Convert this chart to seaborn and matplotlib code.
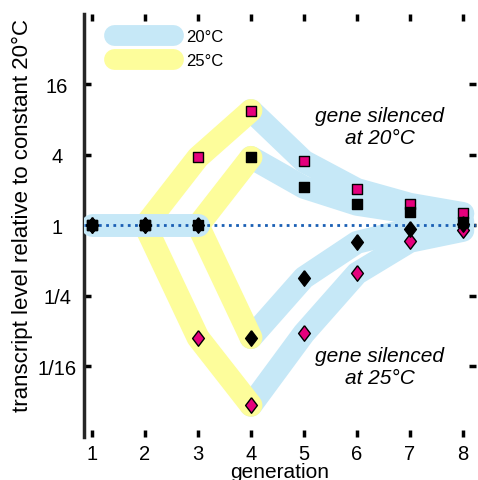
import numpy as np
import pandas as pd
import seaborn as sns
import matplotlib.pyplot as plt
from matplotlib.lines import Line2D

sns.set_style("ticks")
plt.rcParams['font.family'] = ['Liberation Sans', 'DejaVu Sans']
plt.rcParams['text.color'] = 'black'
plt.rcParams['axes.labelcolor'] = 'black'
plt.rcParams['xtick.color'] = 'black'
plt.rcParams['ytick.color'] = 'black'

# generations and log2 transcript levels
generation = [1, 2, 3, 4, 5, 6, 7, 8]
black_square = [0, 0, 0, 1.93, 1.08, 0.60, 0.37, 0.11]
pink_square = [0, 0, 1.93, 3.26, 1.82, 1.02, 0.60, 0.34]
black_diamond = [0, 0, 0, -3.18, -1.48, -0.48, -0.11, 0.03]
pink_diamond = [0, 0, -3.18, -5.10, -3.06, -1.36, -0.45, -0.14]

ytick_pos = [-4, -2, 0, 2, 4]
ytick_labels = ["1/16", "1/4", "1", "4", "16"]

blue = "#c6e8f7"
yellow = "#fdfd9b"
pink = "#e5007d"

fig = plt.figure(figsize=(4.78, 4.81), dpi=100)
ax = fig.add_axes([0.176, 0.0894, 0.82, 0.8796])

band_w = 16.5

def band(xs, ys, color, z):
    d = pd.DataFrame({"g": xs, "v": ys})
    sns.lineplot(data=d, x="g", y="v", color=color, lw=band_w, sort=False,
                 solid_capstyle="round", solid_joinstyle="round", ax=ax, zorder=z)

# blue bands after the shift back to 20C
for s in [pink_square, black_square, black_diamond, pink_diamond]:
    band(generation[3:], s[3:], blue, 1)
# yellow bands (25C)
band(generation[1:4], pink_square[1:4], yellow, 2)
band(generation[2:4], black_square[2:4], yellow, 2)
band(generation[1:4], pink_diamond[1:4], yellow, 2)
band(generation[2:4], black_diamond[2:4], yellow, 2)
# initial 20C band
band(generation[:3], black_square[:3], blue, 3)

ax.axhline(0, color="#1a5fb4", lw=2, ls=(0, (1, 1.6)), zorder=4)

diamond = [(0, 1), (0.76, 0), (0, -1), (-0.76, 0), (0, 1)]
pts = pd.DataFrame({"g": generation * 4,
                    "v": pink_square + black_square + pink_diamond + black_diamond,
                    "kind": ["ps"] * 8 + ["bs"] * 8 + ["pd"] * 8 + ["bd"] * 8})
style = {"ps": ("s", pink, 44), "bs": ("s", "black", 44),
         "pd": (diamond, pink, 125), "bd": (diamond, "black", 125)}
for k, (m, c, sz) in style.items():
    sub = pts[pts["kind"] == k]
    sns.scatterplot(data=sub, x="g", y="v", marker=m, color=c, s=sz,
                    edgecolor="black", linewidth=1.0, ax=ax, zorder=5)

ax.text(6.43, 2.8, "gene silenced\nat 20°C", ha="center", va="center",
        style="italic", fontsize=15, linespacing=1.2)
ax.text(6.43, -4.0, "gene silenced\nat 25°C", ha="center", va="center",
        style="italic", fontsize=15, linespacing=1.2)

handles = [Line2D([], [], color=blue, lw=15, solid_capstyle="round"),
           Line2D([], [], color=yellow, lw=15, solid_capstyle="round")]
ax.legend(handles, ["20°C", "25°C"], loc="upper left", frameon=False,
          bbox_to_anchor=(0.058, 0.981), handlelength=3.55, fontsize=12,
          labelspacing=0.57, handletextpad=0.8, borderaxespad=0)

ax.set_xlim(0.85, 8.25)
ax.set_ylim(-6, 6)
ax.set_xticks(generation)
ax.set_yticks(ytick_pos)
ax.set_yticklabels(ytick_labels, ha="center")
ax.tick_params(direction="in", length=5, width=2.5, labelsize=14.5,
               top=True, right=True)
ax.tick_params(axis="y", pad=19.5)
ax.tick_params(axis="x", pad=5)
for side in ["top", "right", "bottom"]:
    ax.spines[side].set_visible(False)
ax.spines["left"].set_linewidth(2.5)
ax.set_xlabel("generation", fontsize=15, labelpad=-1)
ax.set_ylabel("transcript level relative to constant 20°C", fontsize=16)
ax.yaxis.set_label_coords(-0.13, 0.525)

fig.savefig("out.png", dpi=100)
